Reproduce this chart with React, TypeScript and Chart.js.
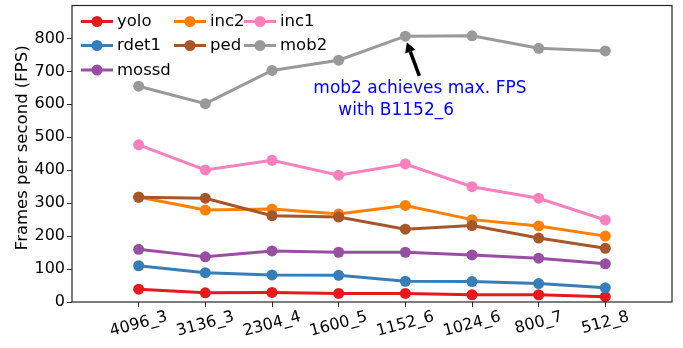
import React, { useEffect, useRef } from 'react';
import { Chart, registerables } from 'chart.js';

Chart.register(...registerables);

const categories = ['4096_3', '3136_3', '2304_4', '1600_5', '1152_6', '1024_6', '800_7', '512_8'];
const seriesNames = ['yolo', 'rdet1', 'mossd', 'inc2', 'ped', 'inc1', 'mob2'];
const yolo = [39, 28, 29, 26, 26, 22, 22, 16];
const rdet1 = [110, 89, 82, 81, 63, 62, 56, 43];
const mossd = [160, 137, 155, 151, 151, 143, 133, 116];
const inc2 = [319, 279, 282, 267, 293, 250, 231, 200];
const ped = [318, 315, 262, 258, 221, 232, 194, 163];
const inc1 = [477, 401, 430, 385, 419, 350, 315, 249];
const mob2 = [655, 602, 703, 734, 807, 808, 770, 762];
const seriesValues = [yolo, rdet1, mossd, inc2, ped, inc1, mob2];
const seriesColors = ['#e41a1c', '#377eb8', '#984ea3', '#ff7f00', '#a65628', '#f781bf', '#999999'];
const legendColumns = [[0, 1, 2], [3, 4], [5, 6]];
const yTickValues = [0, 100, 200, 300, 400, 500, 600, 700, 800];
const yAxisTitle = 'Frames per second (FPS)';
const annotationLines = ['mob2 achieves max. FPS', 'with B1152_6'];
const annotationCategory = 4;
const annotationValue = 808;

const FONT = '"DejaVu Sans", sans-serif';
const AXIS = '#262626';

const overlay = {
  id: 'overlay',
  afterDraw(chart: any) {
    const ctx = chart.ctx;
    const area = chart.chartArea;
    const xs = chart.scales.x;
    const ys = chart.scales.y;
    ctx.save();
    // frame
    ctx.strokeStyle = AXIS;
    ctx.lineWidth = 1.2;
    ctx.strokeRect(area.left, area.top, area.right - area.left, area.bottom - area.top);

    // x tick labels rotated 15deg, centered on tick
    ctx.fillStyle = '#000';
    ctx.font = `16px ${FONT}`;
    ctx.textAlign = 'center';
    ctx.textBaseline = 'middle';
    const ang = (15 * Math.PI) / 180;
    categories.forEach((c, i) => {
      const cx = xs.getPixelForValue(i);
      const w = ctx.measureText(c).width;
      const H = 18.7;
      const bh = w * Math.sin(ang) + H * Math.cos(ang);
      const cy = area.bottom + 5.5 + bh / 2;
      ctx.save();
      ctx.translate(cx, cy);
      ctx.rotate(-ang);
      ctx.fillText(c, 0, 0);
      ctx.restore();
    });

    // y axis title
    ctx.save();
    ctx.font = `16.5px ${FONT}`;
    ctx.translate(22.5, (area.top + area.bottom) / 2 - 6);
    ctx.rotate(-Math.PI / 2);
    ctx.textAlign = 'center';
    ctx.textBaseline = 'middle';
    ctx.fillText(yAxisTitle, 0, 0);
    ctx.restore();

    // legend (3 columns, column-major)
    const colStarts = [9, 102, 172];
    const rowYs = [16, 40, 64.5];
    const lineLen = 32;
    ctx.font = `16.5px ${FONT}`;
    ctx.textAlign = 'left';
    ctx.textBaseline = 'middle';
    legendColumns.forEach((colItems, col) => {
      colItems.forEach((idx, row) => {
        const name = seriesNames[idx];
        const x0 = area.left + colStarts[col];
        const y0 = area.top + rowYs[row];
        ctx.strokeStyle = seriesColors[idx];
        ctx.lineWidth = 3;
        ctx.beginPath();
        ctx.moveTo(x0, y0);
        ctx.lineTo(x0 + lineLen, y0);
        ctx.stroke();
        ctx.fillStyle = seriesColors[idx];
        ctx.beginPath();
        ctx.arc(x0 + lineLen / 2, y0, 5.5, 0, Math.PI * 2);
        ctx.fill();
        ctx.fillStyle = '#000';
        ctx.fillText(name, x0 + lineLen + 4, y0 + 0.5);
      });
    });

    // annotation
    const px = xs.getPixelForValue(annotationCategory);
    const py = ys.getPixelForValue(annotationValue);
    ctx.fillStyle = '#0000ff';
    ctx.font = `17px ${FONT}`;
    ctx.textAlign = 'left';
    ctx.textBaseline = 'middle';
    ctx.fillText(annotationLines[0], px - 92, py + 52.5);
    ctx.fillText(annotationLines[1], px - 67, py + 75);
    // arrow
    const tx = px + 14, ty = py + 40;
    const hx = px + 1.5, hy = py + 6.5;
    const dx = hx - tx, dy = hy - ty;
    const len = Math.sqrt(dx * dx + dy * dy);
    const ux = dx / len, uy = dy / len;
    const headLen = 10, headW = 5.5;
    const bx = hx - ux * headLen, by = hy - uy * headLen;
    ctx.strokeStyle = '#000';
    ctx.fillStyle = '#000';
    ctx.lineWidth = 3.5;
    ctx.beginPath();
    ctx.moveTo(tx, ty);
    ctx.lineTo(bx, by);
    ctx.stroke();
    ctx.beginPath();
    ctx.moveTo(hx, hy);
    ctx.lineTo(bx - uy * headW, by + ux * headW);
    ctx.lineTo(bx + uy * headW, by - ux * headW);
    ctx.closePath();
    ctx.fill();
    ctx.restore();
  },
};

export default function App() {
  const ref = useRef<HTMLCanvasElement | null>(null);
  useEffect(() => {
    if (!ref.current) return;
    const datasets = seriesNames.map((name, idx) => ({
      label: name,
      data: seriesValues[idx].map((v, i) => ({ x: i, y: v })),
      borderColor: seriesColors[idx],
      backgroundColor: seriesColors[idx],
      pointBackgroundColor: seriesColors[idx],
      pointBorderWidth: 0,
      pointRadius: 5.5,
      borderWidth: 3,
      tension: 0,
      order: seriesNames.length - idx,
    }));
    const chart = new Chart(ref.current, {
      type: 'line',
      data: { datasets },
      plugins: [overlay],
      options: {
        animation: false,
        responsive: false,
        maintainAspectRatio: false,
        layout: { padding: { left: 0, top: 3, right: 11, bottom: 0 } },
        plugins: { legend: { display: false }, tooltip: { enabled: false } },
        scales: {
          x: {
            type: 'linear',
            min: -1,
            max: categories.length,
            afterBuildTicks: (s: any) => {
              s.ticks = categories.map((_, i) => ({ value: i }));
            },
            afterFit: (s: any) => {
              s.height = 46;
              s.paddingLeft = 0;
              s.paddingRight = 0;
            },
            ticks: { display: false },
            border: { display: false },
            grid: { drawOnChartArea: false, drawTicks: true, tickLength: 5, color: AXIS, lineWidth: 1 },
          },
          y: {
            type: 'linear',
            min: 0,
            max: 900,
            afterBuildTicks: (s: any) => {
              s.ticks = yTickValues.map((v) => ({ value: v }));
            },
            afterFit: (s: any) => {
              s.width = 72;
              s.paddingTop = 0;
              s.paddingBottom = 0;
            },
            ticks: {
              color: '#000',
              font: { family: FONT, size: 16 },
              padding: 2,
            },
            border: { display: false },
            grid: { drawOnChartArea: false, drawTicks: true, tickLength: 5, color: AXIS, lineWidth: 1 },
          },
        },
      },
    });
    return () => chart.destroy();
  }, []);
  return (
    <div style={{ position: 'fixed', left: 0, top: 0, width: 683, height: 348, background: '#fff' }}>
      <canvas ref={ref} width={683} height={348} style={{ display: 'block' }} />
    </div>
  );
}
